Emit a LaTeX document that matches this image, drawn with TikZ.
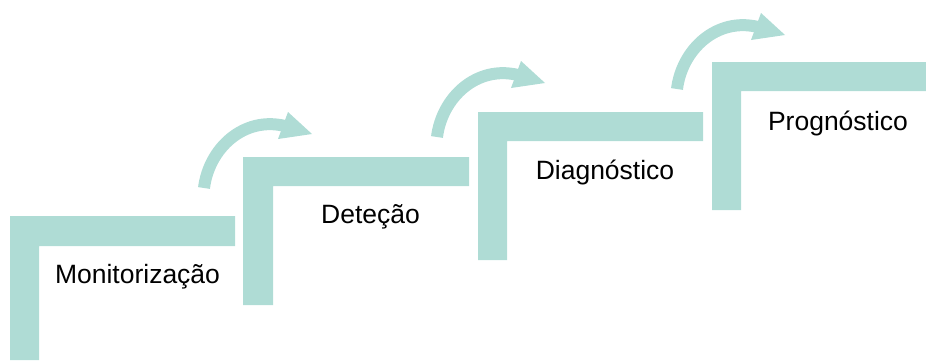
\documentclass[tikz,border=0pt]{standalone}
\usepackage{fontspec}
\setmainfont{Liberation Sans}
\definecolor{stairteal}{RGB}{175,220,213}

\begin{document}
\begin{tikzpicture}[x=1pt,y=-1pt,
  stairbar/.style={fill=stairteal},
  bendshaft/.style={draw=stairteal, line width=12pt},
  steplabel/.style={font=\fontsize{26.5}{31}\selectfont, inner sep=0pt, anchor=base}]
\useasboundingbox (0,0) rectangle (926,360);

% L-shaped stair steps
\fill[stairbar] (10,360) |- (235,216) |- (39,246) -- (39,360) -- cycle;
\fill[stairbar] (243,305) |- (469,157) |- (273,186) -- (273,305) -- cycle;
\fill[stairbar] (478,260) |- (703,112) |- (507,141) -- (507,260) -- cycle;
\fill[stairbar] (712,210) |- (926,62) |- (741,91) -- (741,210) -- cycle;

% curved arrows climbing to the next step
\foreach \ox/\oy in {204/188, 437/137, 677/89} {
  \begin{scope}[shift={(\ox,\oy)}]
    \draw[bendshaft] (0,0) .. controls (5,-40) and (40,-72) .. (81,-62);
    \fill[stairbar] (84,-76) -- (108,-54) -- (74,-49) -- cycle;
  \end{scope}
}

% step labels
\node[steplabel] (mon) at (137.5,283) {Monitorização};
\node[steplabel] (det) at (370.5,223) {Deteção};
\node[steplabel] (dia) at (605,179) {Diagnóstico};
\node[steplabel] (pro) at (838,130) {Prognóstico};
\end{tikzpicture}
\end{document}
